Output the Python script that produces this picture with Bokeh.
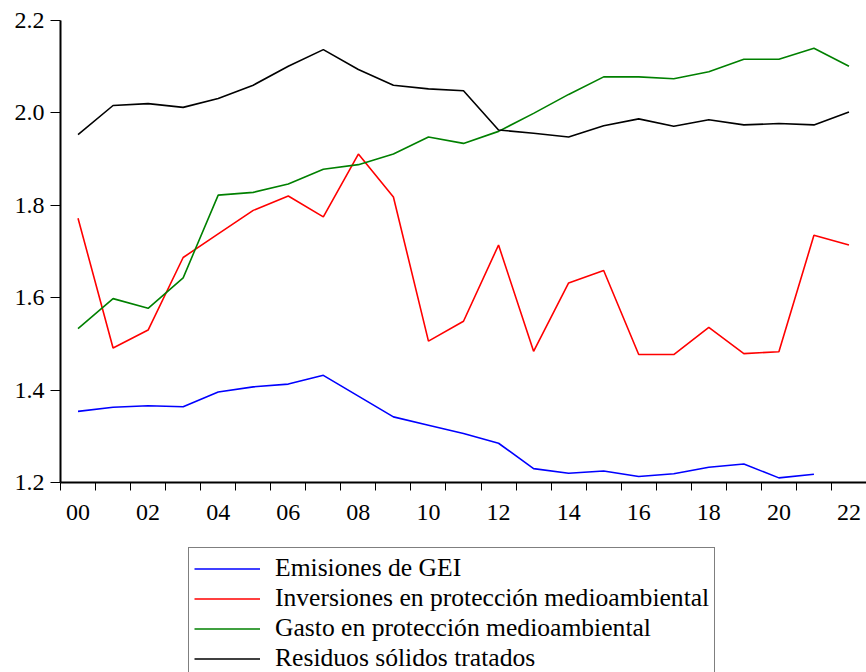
from bokeh.plotting import figure
from bokeh.layouts import column
from bokeh.models import FixedTicker, Legend, LegendItem, Range1d
from bokeh.embed import file_html
from bokeh.resources import INLINE

years = list(range(2000, 2023))
tick_labels = ["00", "02", "04", "06", "08", "10", "12", "14", "16", "18", "20", "22"]

emisiones_gei = [1.354, 1.363, 1.366, 1.364, 1.396, 1.407, 1.413, 1.432, 1.387, 1.342,
                 1.324, 1.306, 1.285, 1.230, 1.220, 1.225, 1.213, 1.219, 1.233, 1.240,
                 1.210, 1.218]
inversiones = [1.772, 1.491, 1.530, 1.687, 1.738, 1.789, 1.820, 1.775, 1.911, 1.818,
               1.506, 1.549, 1.714, 1.484, 1.632, 1.659, 1.477, 1.477, 1.536, 1.479,
               1.483, 1.735, 1.714]
gasto = [1.533, 1.598, 1.577, 1.643, 1.822, 1.828, 1.846, 1.878, 1.888, 1.911,
         1.948, 1.934, 1.960, 1.999, 2.040, 2.078, 2.078, 2.074, 2.089, 2.116,
         2.116, 2.140, 2.101]
residuos = [1.953, 2.016, 2.020, 2.012, 2.031, 2.060, 2.101, 2.137, 2.094, 2.060,
            2.052, 2.048, 1.963, 1.956, 1.948, 1.972, 1.987, 1.971, 1.985, 1.974,
            1.977, 1.974, 2.002]

series_names = ["Emisiones de GEI",
                "Inversiones en protección medioambiental",
                "Gasto en protección medioambiental",
                "Residuos sólidos tratados"]
series_values = [emisiones_gei, inversiones, gasto, residuos]
series_colors = ["#0000ff", "#ff0000", "#008000", "#000000"]

FONT = "Liberation Serif"

# ---- main chart ----
p = figure(width=866, height=540, output_backend="svg", toolbar_location=None,
           x_range=Range1d(1999.5, 2022.5), y_range=Range1d(1.2, 2.2),
           min_border_left=60, min_border_right=0, min_border_top=20, min_border_bottom=58)
p.outline_line_color = None
p.xgrid.visible = False
p.ygrid.visible = False
p.background_fill_color = "white"
p.border_fill_color = "white"

for name, vals, col in zip(series_names, series_values, series_colors):
    p.line(years[:len(vals)], vals, line_color=col, line_width=1.6)

label_years = [2000 + 2 * i for i in range(len(tick_labels))]
p.xaxis.ticker = FixedTicker(ticks=label_years, minor_ticks=[y - 0.5 for y in years] + [2022.5])
p.xaxis.major_label_overrides = {yr: lab for yr, lab in zip(label_years, tick_labels)}
p.xaxis.major_tick_out = 0
p.xaxis.major_tick_in = 0
p.xaxis.minor_tick_out = 8
p.xaxis.minor_tick_in = 0
p.xaxis.minor_tick_line_color = "black"
p.xaxis.major_label_standoff = 14
p.xaxis.axis_line_width = 2
p.xaxis.axis_line_color = "black"

p.yaxis.ticker = FixedTicker(ticks=[1.2, 1.4, 1.6, 1.8, 2.0, 2.2], minor_ticks=[])
p.yaxis.major_label_overrides = {1.2: "1.2", 1.4: "1.4", 1.6: "1.6", 1.8: "1.8", 2.0: "2.0", 2.2: "2.2"}
p.yaxis.major_tick_out = 10
p.yaxis.major_tick_in = 0
p.yaxis.major_label_standoff = 6
p.yaxis.axis_line_width = 2
p.yaxis.axis_line_color = "black"

for ax in (p.xaxis[0], p.yaxis[0]):
    ax.major_label_text_font = FONT
    ax.major_label_text_font_size = "24px"
    ax.major_label_text_color = "black"
    ax.major_tick_line_color = "black"

# ---- legend panel ----
p2 = figure(width=866, height=132, output_backend="svg", toolbar_location=None,
            x_range=Range1d(0, 1), y_range=Range1d(0, 1),
            x_axis_location=None, y_axis_location=None,
            min_border=0, min_border_left=0, min_border_right=0,
            min_border_top=0, min_border_bottom=0)
p2.outline_line_color = None
p2.xgrid.visible = False
p2.ygrid.visible = False
p2.background_fill_color = "white"
p2.border_fill_color = "white"

items = []
for name, vals, col in zip(series_names, series_values, series_colors):
    # series values lie outside this panel's 0..1 range, so only the legend swatch shows
    r = p2.line(years[:len(vals)], vals, line_color=col, line_width=1.6)
    items.append(LegendItem(label=name, renderers=[r]))

legend = Legend(items=items, location=(128, -7), orientation="vertical",
                border_line_color="black", border_line_width=1.5,
                background_fill_color="white", background_fill_alpha=1.0,
                padding=5, margin=0, spacing=0,
                glyph_width=66, glyph_height=29, label_height=29,
                label_standoff=15,
                label_text_font=FONT, label_text_font_size="25.6px",
                label_text_color="black")
p2.add_layout(legend, "center")

layout = column(p, p2, spacing=0)
open("out.html", "w").write(file_html(layout, INLINE))
